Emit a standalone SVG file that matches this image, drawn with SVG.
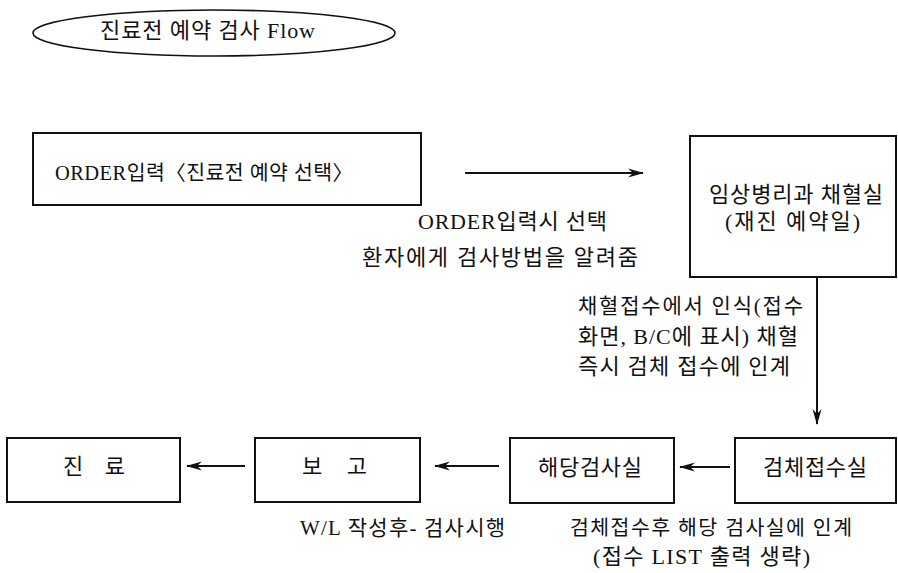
<svg xmlns="http://www.w3.org/2000/svg" width="898" height="573" viewBox="0 0 898 573">
<style>
.box{fill:none;stroke:#111;stroke-width:2}
.t{font-family:"Liberation Serif","Noto Sans CJK KR",serif;font-size:22px;fill:#111}
.c{stroke:#111;stroke-width:2;fill:none}
</style>
<defs>
<marker id="ah" viewBox="0 0 16 10" refX="15" refY="5" markerWidth="16" markerHeight="10" markerUnits="userSpaceOnUse" orient="auto">
<path d="M0,0.5 L16,5 L0,9.5 L5,5 z" fill="#111"/>
</marker>
</defs>
<g id="title">
<ellipse cx="214" cy="33" rx="181" ry="23" fill="none" stroke="#111" stroke-width="1.6"/>
<text class="t" x="100" y="38" textLength="215" lengthAdjust="spacing">진료전 예약 검사 Flow</text>
</g>
<g id="order">
<rect class="box" x="33" y="133" width="388" height="72"/>
<text class="t" x="55" y="180" style="font-size:20.5px" textLength="298" lengthAdjust="spacing">ORDER입력〈진료전 예약 선택〉</text>
</g>
<g id="lab">
<rect class="box" x="690" y="136" width="206" height="141"/>
<text class="t" x="709" y="202" textLength="174" lengthAdjust="spacing">임상병리과 채혈실</text>
<text class="t" x="725" y="229" textLength="135" lengthAdjust="spacing">(재진 예약일)</text>
</g>
<g id="jinryo">
<rect class="box" x="7" y="438" width="173" height="64"/>
<text class="t" x="63" y="474" textLength="62" lengthAdjust="spacing">진 료</text>
</g>
<g id="bogo">
<rect class="box" x="255" y="438" width="165" height="64"/>
<text class="t" x="302" y="474" textLength="65" lengthAdjust="spacing">보 고</text>
</g>
<g id="haedang">
<rect class="box" x="510" y="438" width="164" height="65"/>
<text class="t" x="538" y="475" textLength="104" lengthAdjust="spacing">해당검사실</text>
</g>
<g id="geomche">
<rect class="box" x="735" y="438" width="161" height="65"/>
<text class="t" x="763" y="475" textLength="104" lengthAdjust="spacing">검체접수실</text>
</g>
<g id="connectors">
<line class="c" x1="465" y1="173" x2="643" y2="173" marker-end="url(#ah)"/>
<line class="c" x1="817" y1="277" x2="817" y2="424" marker-end="url(#ah)"/>
<line class="c" x1="730" y1="467" x2="680" y2="467" marker-end="url(#ah)"/>
<line class="c" x1="499" y1="466" x2="435" y2="466" marker-end="url(#ah)"/>
<line class="c" x1="245" y1="466" x2="187" y2="466" marker-end="url(#ah)"/>
</g>
<g id="labels">
<text class="t" x="418" y="229" textLength="189" lengthAdjust="spacing">ORDER입력시 선택</text>
<text class="t" x="362" y="265" textLength="276" lengthAdjust="spacing">환자에게 검사방법을 알려줌</text>
<text class="t" x="578" y="313" style="font-size:21px" textLength="225" lengthAdjust="spacing">채혈접수에서 인식(접수</text>
<text class="t" x="578" y="344" textLength="220" lengthAdjust="spacing">화면, B/C에 표시) 채혈</text>
<text class="t" x="578" y="374" textLength="212" lengthAdjust="spacing">즉시 검체 접수에 인계</text>
<text class="t" x="300" y="535" style="font-size:21px" textLength="205" lengthAdjust="spacing">W/L 작성후- 검사시행</text>
<text class="t" x="570" y="535" style="font-size:20.5px" textLength="282" lengthAdjust="spacing">검체접수후 해당 검사실에 인계</text>
<text class="t" x="593" y="564" textLength="217" lengthAdjust="spacing">(접수 LIST 출력 생략)</text>
</g>
</svg>
